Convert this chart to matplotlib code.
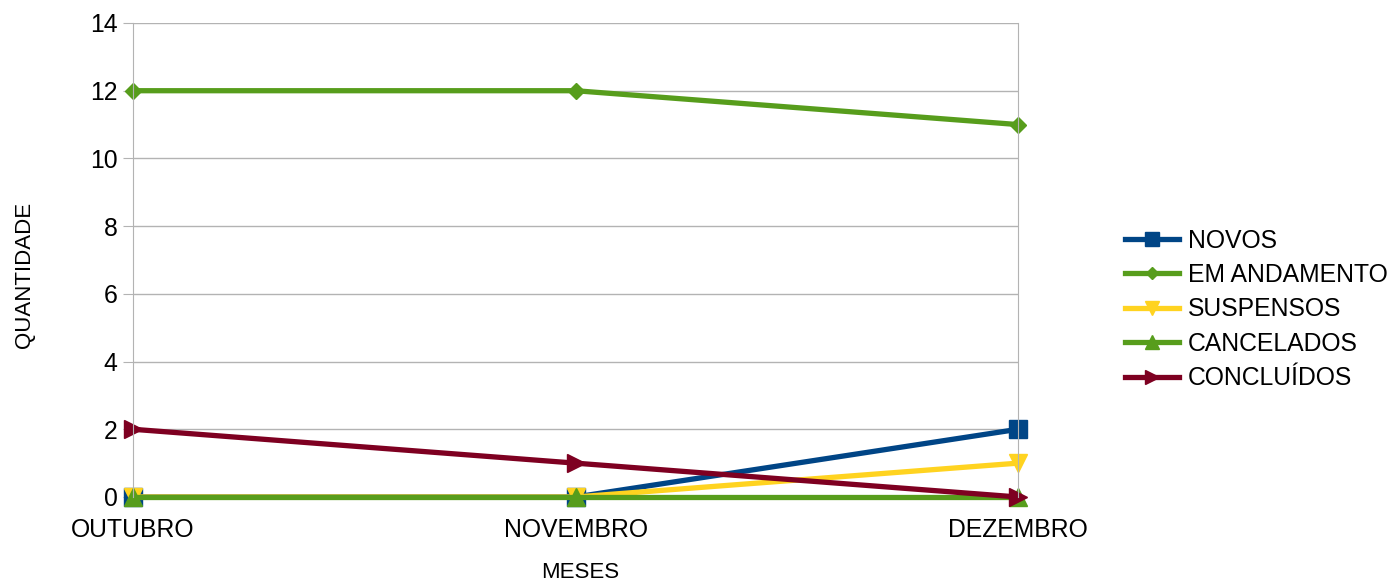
import matplotlib.pyplot as plt
import numpy as np

plt.rcParams['font.family'] = ['Liberation Sans', 'DejaVu Sans']

meses = ['OUTUBRO', 'NOVEMBRO', 'DEZEMBRO']
novos = [0, 0, 2]
em_andamento = [12, 12, 11]
suspensos = [0, 0, 1]
cancelados = [0, 0, 0]
concluidos = [2, 1, 0]

series = [
    ('NOVOS', novos, '#004586', 's', 13),
    ('EM ANDAMENTO', em_andamento, '#579d1c', 'D', 8.5),
    ('SUSPENSOS', suspensos, '#ffd320', 'v', 13),
    ('CANCELADOS', cancelados, '#579d1c', '^', 13),
    ('CONCLUÍDOS', concluidos, '#7e0021', '>', 13),
]

fig = plt.figure(figsize=(13.92, 5.83), dpi=100)
ax = fig.add_axes([133 / 1392, 1 - 497 / 583, (1018 - 133) / 1392, (497 - 23) / 583])

x = np.arange(len(meses))
for label, vals, color, marker, ms in series:
    ax.plot(x, vals, color=color, lw=3.8, marker=marker, markersize=ms,
            label=label, clip_on=False, solid_joinstyle='miter')

ax.set_xlim(0, 2)
ax.set_ylim(0, 14)
ax.set_yticks(range(0, 15, 2))
ax.set_xticks(x)
ax.set_xticklabels(meses)
ax.yaxis.grid(True, color='#b3b3b3', lw=1)
ax.set_axisbelow(True)
for s in ['left', 'right']:
    ax.spines[s].set_color('#b3b3b3')
for s in ['top', 'bottom']:
    ax.spines[s].set_visible(False)
ax.tick_params(axis='y', length=7, color='#b3b3b3', labelsize=17.8, pad=4)
ax.tick_params(axis='x', length=0, labelsize=17.8, pad=15)

fig.text(580 / 1392, 1 - 573 / 583, 'MESES', ha='center', va='center', fontsize=16)
fig.text(25 / 1392, 1 - 275 / 583, 'QUANTIDADE', ha='center', va='center',
         rotation=90, fontsize=16)

fig.legend(loc='center left', bbox_to_anchor=(1125 / 1392, 1 - 309.5 / 583),
           frameon=False, fontsize=17.8, handlelength=2.2, handletextpad=0.35,
           labelspacing=0.42, borderpad=0, borderaxespad=0, markerscale=0.75)

fig.savefig('out.png', dpi=100)
